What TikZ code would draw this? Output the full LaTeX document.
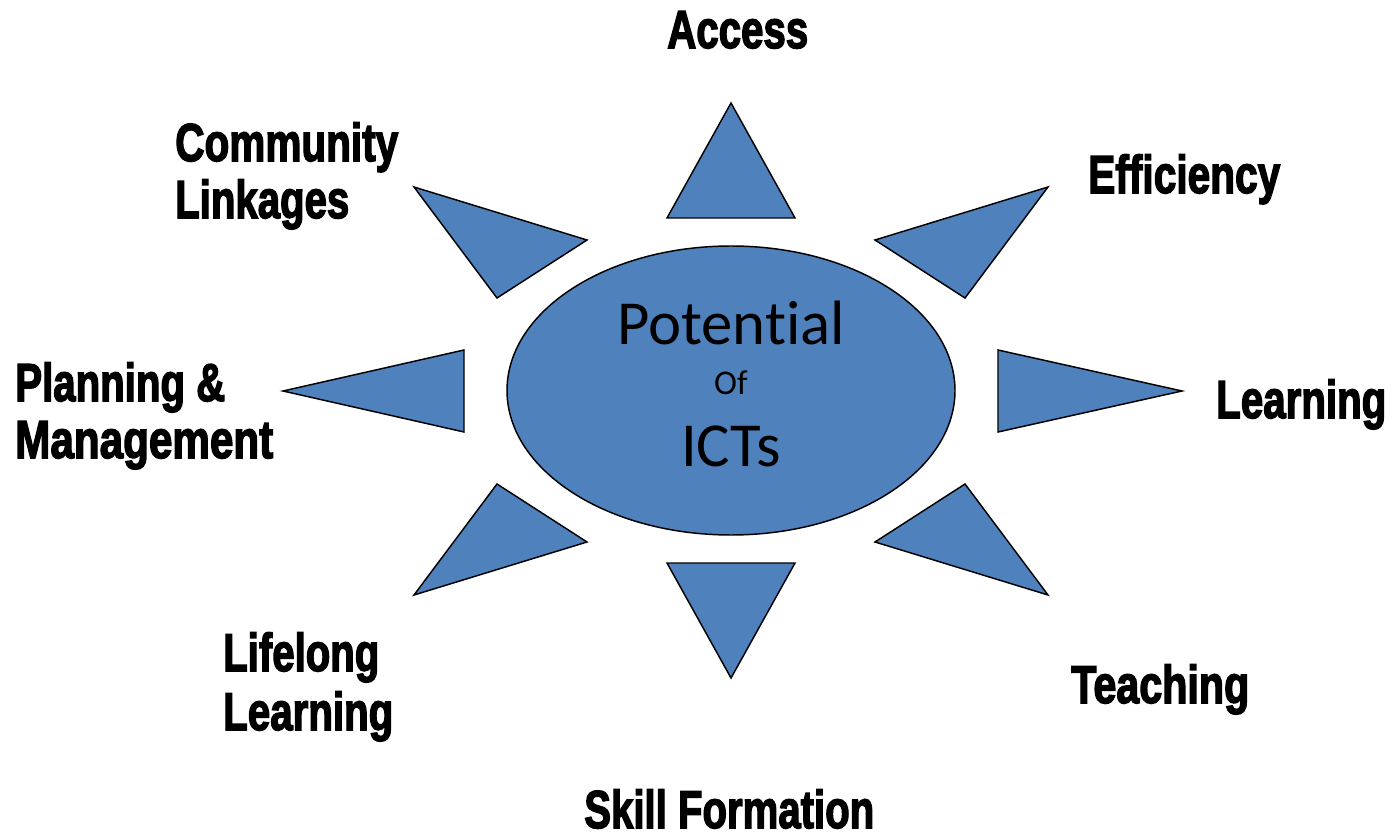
\documentclass[tikz,border=0pt]{standalone}
\usepackage{fontspec}
\usepackage{graphicx}
\usetikzlibrary{shapes.geometric}
\newfontfamily\labfont{Liberation Sans}[BoldFeatures={FakeBold=3}]
\newfontfamily\ctrfont{Carlito}[RawFeature=-liga]
\definecolor{sunblue}{HTML}{4F81BD}
\newlength\pxu
\setlength\pxu{0.75pt}
\newcommand\lw[2]{\resizebox{#1\pxu}{\height}{#2}}
\tikzset{
  ray/.style={draw=black, fill=sunblue, line width=1.1pt, line join=miter},
  lab/.style={inner sep=0pt, anchor=base west, font=\labfont\bfseries\fontsize{40}{48}\selectfont},
  ctr/.style={inner sep=0pt, anchor=base, font=\ctrfont\fontsize{47}{52}\selectfont},
}
\begin{document}
\begin{tikzpicture}[x=0.75pt,y=-0.75pt]
\useasboundingbox (0,0) rectangle (1391,837);
% centre ellipse
\node[ray, ellipse, minimum width=448\pxu, minimum height=289\pxu, inner sep=0pt] (core) at (731,390.5) {};
\node[ctr] (pot) at (731,345) {Potential};
\node[ctr, font=\ctrfont\fontsize{26}{30}\selectfont] (of) at (731,395) {Of};
\node[ctr] (icts) at (731,466) {ICTs};
% rays
\draw[ray] (731,103) -- (667,218) -- (795,218) -- cycle;
\draw[ray] (875,240) -- (1048,187) -- (965,298) -- cycle;
\draw[ray] (998,350) -- (1182,391) -- (998,432) -- cycle;
\draw[ray] (875,542) -- (965,484) -- (1048,595) -- cycle;
\draw[ray] (667,563) -- (795,563) -- (731,678) -- cycle;
\draw[ray] (587,542) -- (497,484) -- (414,595) -- cycle;
\draw[ray] (464,350) -- (283,391) -- (464,432) -- cycle;
\draw[ray] (587,240) -- (414,187) -- (497,298) -- cycle;
% labels
\node[lab] (access) at (667,48) {\lw{141}{Access}};
\node[lab] (commA) at (175,161) {\lw{223}{Community}};
\node[lab] (commB) at (175,218) {\lw{174}{Linkages}};
\node[lab] (eff) at (1088,193) {\lw{192}{Efficiency}};
\node[lab] (planA) at (15,401) {\lw{210}{Planning \&}};
\node[lab] (planB) at (15,458) {\lw{258}{Management}};
\node[lab] (learn) at (1216,418) {\lw{170}{Learning}};
\node[lab] (lifeA) at (223,671) {\lw{156}{Lifelong}};
\node[lab] (lifeB) at (223,730) {\lw{170}{Learning}};
\node[lab] (teach) at (1071,703) {\lw{178}{Teaching}};
\node[lab] (skill) at (584,828) {\lw{290}{Skill Formation}};
\end{tikzpicture}
\end{document}
